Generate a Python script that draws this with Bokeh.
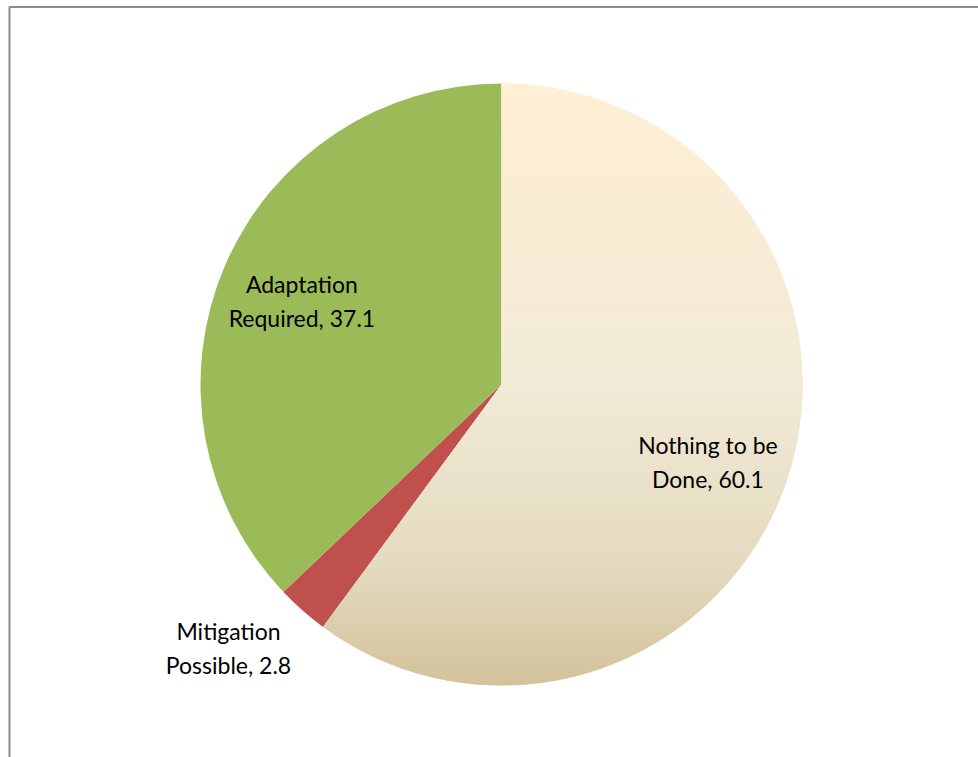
import math
from bokeh.plotting import figure
from bokeh.models import Range1d
from bokeh.embed import file_html
from bokeh.resources import INLINE
from bokeh.core.properties import value

categories = ["Nothing to be Done", "Mitigation Possible", "Adaptation Required"]
label_lines = [["Nothing to be", "Done, 60.1"], ["Mitigation", "Possible, 2.8"], ["Adaptation", "Required, 37.1"]]
values = [60.1, 2.8, 37.1]
colors = [None, "#C0504D", "#9BBB59"]
label_radius = [0.734, 1.264, 0.717]
label_angle_shift = [-2.7, -4.45, 0.87]  # degrees

W, H = 978, 757
CX, CY, R = 501, H - 384, 301

p = figure(width=W, height=H, output_backend="svg", toolbar_location=None,
           x_range=Range1d(0, W), y_range=Range1d(0, H), min_border=0)
p.axis.visible = False
p.grid.visible = False
p.outline_line_color = None
p.background_fill_color = "white"
p.border_fill_color = "white"

# chart border
p.line(x=[9, 9, W + 20], y=[-20, H - 6.5, H - 6.5], line_color="#8C8C8C", line_width=2)

total = sum(values)
angles = []
a = math.pi / 2
for v in values:
    span = v / total * 2 * math.pi
    angles.append((a - span, a))  # clockwise from 12 o'clock
    a -= span

# gradient stops for first slice (screen top->bottom)
stops = [(0.0, (255, 239, 212)), (0.5, (242, 234, 214)), (0.8, (228, 218, 192)), (1.0, (211, 194, 154))]

def grad(t):
    for i in range(len(stops) - 1):
        t0, c0 = stops[i]
        t1, c1 = stops[i + 1]
        if t <= t1:
            f = (t - t0) / (t1 - t0) if t1 > t0 else 0
            return "#%02x%02x%02x" % tuple(int(round(c0[k] + (c1[k] - c0[k]) * f)) for k in range(3))
    return "#%02x%02x%02x" % stops[-1][1]

# draw the flat slices
for i in range(1, 3):
    s, e = angles[i]
    p.wedge(x=CX, y=CY, radius=R, start_angle=s, end_angle=e, direction="anticlock",
            fill_color=colors[i], line_color=None)

# first slice: base wedge + gradient strips
s0, e0 = angles[0]
p.wedge(x=CX, y=CY, radius=R, start_angle=s0, end_angle=e0, direction="anticlock",
        fill_color=grad(0.5), line_color=None)

ca, sa = math.cos(s0), math.sin(s0)
y_end = CY + R * sa


def left_bound(y):
    if y >= CY:
        return CX
    if y >= y_end:
        return CX + (y - CY) * ca / sa
    return CX - math.sqrt(max(R * R - (y - CY) ** 2, 0))


def right_bound(y):
    return CX + math.sqrt(max(R * R - (y - CY) ** 2, 0))

xs, ys, fc = [], [], []
step = 2.0
y = CY + R
while y > CY - R:
    y0 = y
    y1 = max(y - step - 0.8, CY - R)
    pts_y = [y0 - k * (y0 - y1) / 4 for k in range(5)]
    rx = [right_bound(v) for v in pts_y]
    lx = [left_bound(v) for v in pts_y]
    if y0 > CY > y1:
        pts_l = sorted(set(pts_y + [CY]))
        lx = [left_bound(v) for v in pts_l]
        xs.append(rx + lx)
        ys.append(pts_y + pts_l)
    else:
        xs.append(rx + lx[::-1])
        ys.append(pts_y + pts_y[::-1])
    t = ((CY + R) - (y0 - step / 2)) / (2 * R)
    fc.append(grad(min(max(t, 0), 1)))
    y -= step
p.patches(xs=xs, ys=ys, fill_color=fc, line_color=None)

# labels
line_h = 34
base_off = -1.5
for i in range(3):
    s, e = angles[i]
    mid = (s + e) / 2 + math.radians(label_angle_shift[i])
    lx = CX + label_radius[i] * R * math.cos(mid)
    ly = CY + label_radius[i] * R * math.sin(mid)
    n = len(label_lines[i])
    for j, txt in enumerate(label_lines[i]):
        yy = ly + (n - 1) / 2 * line_h - j * line_h - base_off
        p.text(x=[lx], y=[yy], text=[txt], text_font=value("Lato"), text_font_size="23px",
               text_color="#000000", text_align="center", text_baseline="alphabetic")

open("out.html", "w").write(file_html(p, INLINE))
